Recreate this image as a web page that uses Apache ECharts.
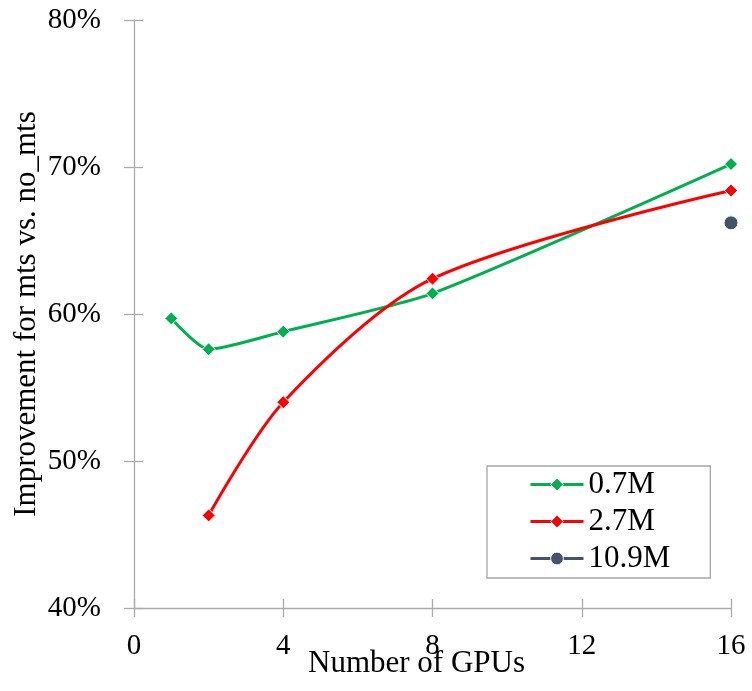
<!DOCTYPE html>
<html>
<head>
<meta charset="utf-8">
<script src="https://cdn.jsdelivr.net/npm/echarts@6/dist/echarts.min.js"></script>
<style>
  html, body { margin: 0; padding: 0; background: #fff; }
  #chart { width: 752px; height: 691px; }
</style>
</head>
<body>
<div id="chart"></div>
<script>
// GPU counts and improvement (%) per dataset size
const gpus07 = [1, 2, 4, 8, 16];
const values07 = [59.7, 57.6, 58.8, 61.4, 70.2];
const gpus27 = [2, 4, 8, 16];
const values27 = [46.3, 54.0, 62.4, 68.4];
const gpus109 = [16];
const values109 = [66.2];

const seriesNames = ['0.7M', '2.7M', '10.9M'];
const xTicks = { min: 0, max: 16, interval: 4 };
const yTicks = { min: 40, max: 80, interval: 10 };

const FONT = '"Liberation Serif", "Times New Roman", serif';
const AXIS_GRAY = '#ABABAB';

function pairs(xs, ys) { return xs.map((x, i) => [x, ys[i]]); }

const chart = echarts.init(document.getElementById('chart'), null, { renderer: 'canvas' });

const baseX = {
  type: 'value', min: xTicks.min, max: xTicks.max, interval: xTicks.interval,
  position: 'bottom', splitLine: { show: false }
};
const baseY = {
  type: 'value', min: yTicks.min, max: yTicks.max, interval: yTicks.interval,
  position: 'left', splitLine: { show: false }
};

chart.setOption({
  animation: false,
  backgroundColor: '#fff',
  grid: { left: 134, right: 21, top: 20, bottom: 83, containLabel: false, outerBoundsMode: 'none' },
  legend: {
    orient: 'vertical',
    left: 487, top: 466,
    padding: [3, 40, 4, 42],
    itemGap: 6,
    itemWidth: 53,
    itemHeight: 16,
    borderColor: '#A6A6A6',
    borderWidth: 1.3,
    lineStyle: { width: 3 },
    itemStyle: { borderColor: '#fff', borderWidth: 1 },
    textStyle: { fontFamily: FONT, fontSize: 31, color: '#000' },
    data: seriesNames
  },
  xAxis: [
    Object.assign({}, baseX, {
      name: 'Number of GPUs',
      nameLocation: 'middle',
      nameGap: 40,
      nameMoveOverlap: false,
      nameTextStyle: { fontFamily: FONT, fontSize: 31, color: '#000', padding: [0, 32, 0, 0] },
      axisLine: { lineStyle: { color: AXIS_GRAY, width: 1.3 } },
      axisTick: { inside: false, length: 9, lineStyle: { color: AXIS_GRAY, width: 1.3 } },
      axisLabel: { fontFamily: FONT, fontSize: 29, color: '#000', margin: 24 }
    }),
    Object.assign({}, baseX, {
      axisLine: { show: false },
      axisTick: { inside: true, length: 9, lineStyle: { color: AXIS_GRAY, width: 1.3 } },
      axisLabel: { show: false }
    })
  ],
  yAxis: [
    Object.assign({}, baseY, {
      name: 'Improvement for mts vs. no_mts',
      nameLocation: 'middle',
      nameGap: 92,
      nameMoveOverlap: false,
      nameTextStyle: { fontFamily: FONT, fontSize: 31, color: '#000' },
      axisLine: { show: true, lineStyle: { color: AXIS_GRAY, width: 1.3 } },
      axisTick: { show: true, inside: false, length: 10, lineStyle: { color: AXIS_GRAY, width: 1.3 } },
      axisLabel: { fontFamily: FONT, fontSize: 29, color: '#000', margin: 33, formatter: v => v + '%' }
    }),
    Object.assign({}, baseY, {
      axisLine: { show: false },
      axisTick: { show: true, inside: true, length: 9, lineStyle: { color: AXIS_GRAY, width: 1.3 } },
      axisLabel: { show: false }
    })
  ],
  series: [
    {
      name: seriesNames[0], type: 'line', smooth: 0.22,
      xAxisIndex: 0, yAxisIndex: 0,
      data: pairs(gpus07, values07),
      symbol: 'diamond', symbolSize: 13,
      lineStyle: { color: '#00B050', width: 3 },
      itemStyle: { color: '#00B050', borderColor: '#fff', borderWidth: 1 },
      z: 3
    },
    {
      name: seriesNames[1], type: 'line', smooth: 0.3,
      xAxisIndex: 0, yAxisIndex: 0,
      data: pairs(gpus27, values27),
      symbol: 'diamond', symbolSize: 13,
      lineStyle: { color: '#FF0000', width: 3 },
      itemStyle: { color: '#FF0000', borderColor: '#fff', borderWidth: 1 },
      z: 4
    },
    {
      name: seriesNames[2], type: 'line',
      xAxisIndex: 0, yAxisIndex: 0,
      data: pairs(gpus109, values109),
      symbol: 'circle', symbolSize: 14,
      lineStyle: { color: '#44546A', width: 3 },
      itemStyle: { color: '#44546A', borderColor: '#fff', borderWidth: 1 },
      z: 5
    }
  ]
});
</script>
</body>
</html>
